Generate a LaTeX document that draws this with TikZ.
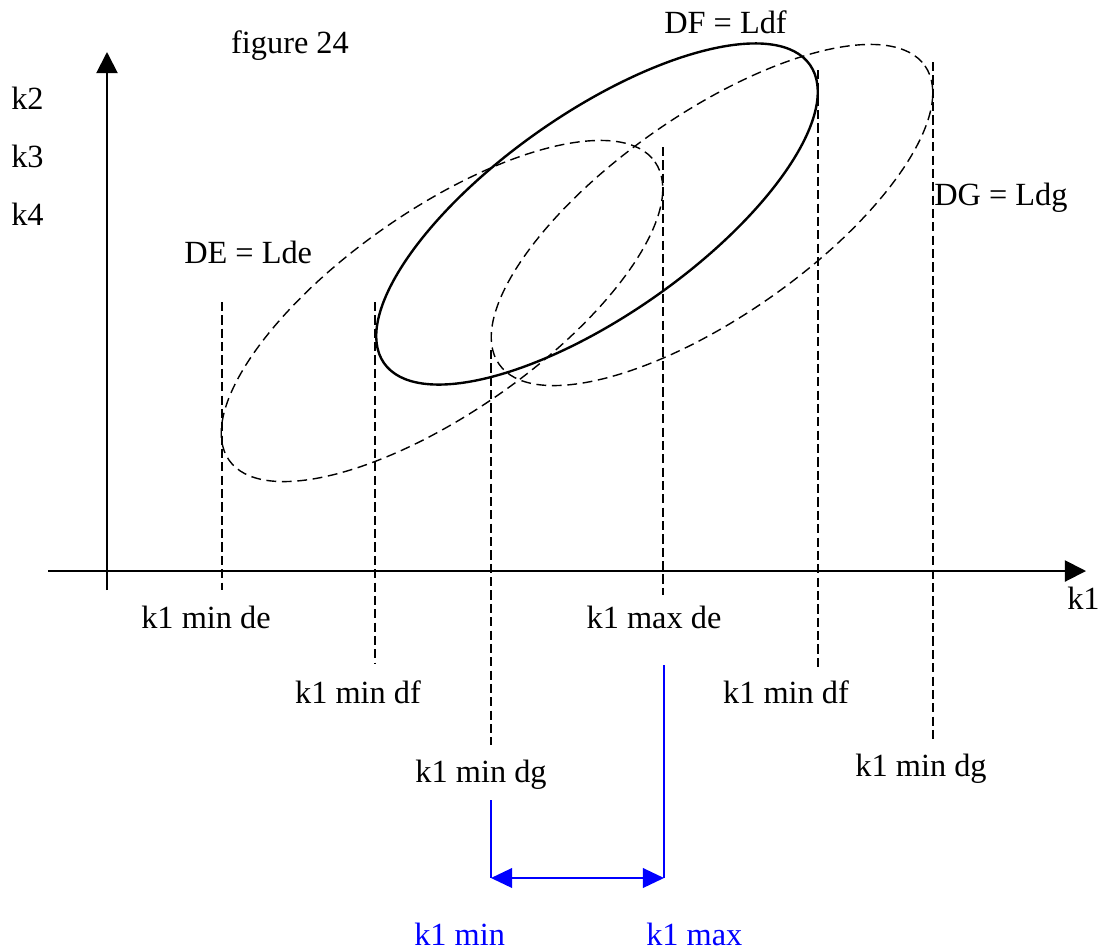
\documentclass[tikz,border=0pt]{standalone}
\usepackage{fontspec}
\setmainfont{Liberation Serif}
\usetikzlibrary{arrows.meta}
\definecolor{kb}{RGB}{0,0,255}
\tikzset{
  lbl/.style={inner sep=0pt, anchor=base, font=\fontsize{23}{27}\selectfont},
  blbl/.style={lbl, text=kb},
  axis/.style={-{Triangle[length=15pt,width=15pt]}, line width=1.4pt},
  guide/.style={dash pattern=on 6.5pt off 3pt, line width=0.9pt},
  sell/.style={line width=1.7pt},
  dell/.style={dash pattern=on 7pt off 4pt, line width=1pt},
  bline/.style={line width=1.2pt, kb},
  barr/.style={{Triangle[length=15pt,width=14pt]}-{Triangle[length=15pt,width=14pt]},
    line width=1.2pt, kb}
}
\begin{document}
\begin{tikzpicture}[x=0.025cm, y=-0.025cm]
\useasboundingbox (0,0) rectangle (1106,950);

% axes
\coordinate (yb) at (107,590);
\coordinate (yt) at (107,52);
\coordinate (xl) at (48,571);
\coordinate (xr) at (1086,571);
\draw[axis] (yb) -- (yt);
\draw[axis] (xl) -- (xr);

% ellipses
\draw[dell, rotate around={35:(442,311)}] (442,311) ellipse [x radius=260, y radius=101];
\draw[sell, rotate around={35:(597,214)}] (597,214) ellipse [x radius=260, y radius=101];
\draw[dell, rotate around={35:(712,215)}] (712,215) ellipse [x radius=260, y radius=101];

% guide lines
\coordinate (minde1) at (222,302);  \coordinate (minde2) at (222,590);
\coordinate (mindf1) at (375,302);  \coordinate (mindf2) at (375,664);
\coordinate (mindg1) at (491,350);  \coordinate (mindg2) at (491,745);
\coordinate (maxde1) at (663,147);  \coordinate (maxde2) at (663,595);
\coordinate (maxdf1) at (818,70);   \coordinate (maxdf2) at (818,667);
\coordinate (maxdg1) at (933,62);   \coordinate (maxdg2) at (933,740);
\draw[guide] (minde1) -- (minde2);
\draw[guide] (mindf1) -- (mindf2);
\draw[guide] (mindg1) -- (mindg2);
\draw[guide] (maxde1) -- (maxde2);
\draw[guide] (maxdf1) -- (maxdf2);
\draw[guide] (maxdg1) -- (maxdg2);

% labels
\node[lbl] (fig) at (290,53) {figure 24};
\node[lbl, anchor=base west] (lk2) at (11,109) {k2};
\node[lbl, anchor=base west] (lk3) at (11,167) {k3};
\node[lbl, anchor=base west] (lk4) at (11,225) {k4};
\node[lbl, anchor=base west] (lde) at (184,263) {DE = Lde};
\node[lbl, anchor=base west] (ldf) at (664,33) {DF = Ldf};
\node[lbl, anchor=base west] (ldg) at (934,205) {DG = Ldg};
\node[lbl, anchor=base west] (lk1) at (1067,609) {k1};
\node[lbl] (tminde) at (206,628) {k1 min de};
\node[lbl] (tmaxde) at (654,628) {k1 max de};
\node[lbl] (tmindf) at (358,703) {k1 min df};
\node[lbl] (tmaxdf) at (786,703) {k1 min df};
\node[lbl] (tmindg) at (481,782) {k1 min dg};
\node[lbl] (tmaxdg) at (921,776) {k1 min dg};

% k1 range
\coordinate (bmin1) at (491,800);  \coordinate (bmin2) at (491,878);
\coordinate (bmax1) at (664,665);  \coordinate (bmax2) at (664,878);
\draw[bline] (bmin1) -- (bmin2);
\draw[bline] (bmax1) -- (bmax2);
\draw[barr] (bmin2) -- (bmax2);
\node[blbl, anchor=base west] (kmin) at (414,945) {k1 min};
\node[blbl, anchor=base west] (kmax) at (646,945) {k1 max};

\end{tikzpicture}
\end{document}
